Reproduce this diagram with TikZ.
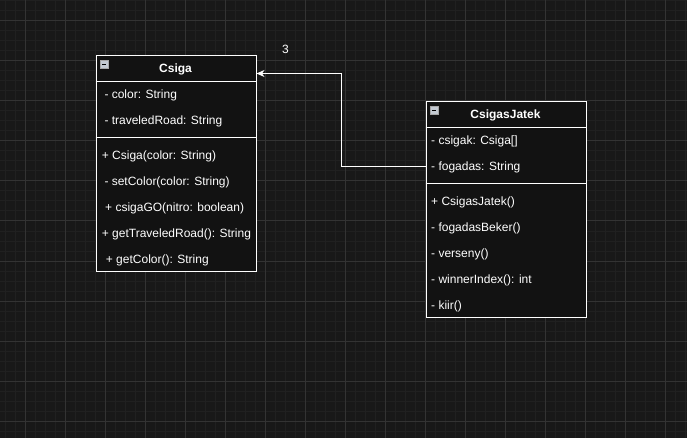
\documentclass[tikz,border=0pt]{standalone}
\usepackage{fontspec}
\setmainfont{Liberation Sans}
\usetikzlibrary{arrows.meta}
\definecolor{canvas}{HTML}{181818}
\definecolor{boxfill}{HTML}{121212}
\definecolor{minorline}{HTML}{202020}
\definecolor{majorline}{HTML}{333333}
\definecolor{togglegray}{HTML}{C4CAD2}
\begin{document}
\begin{tikzpicture}[
      x=1pt, y=-1pt,
      font=\fontsize{12}{14}\selectfont,
      minorgrid/.style={minorline, line width=1pt},
      majorgrid/.style={majorline, line width=1pt},
      classbox/.style={draw=white, fill=boxfill, line width=1pt, rectangle, inner sep=0pt, minimum width=160pt, minimum height=215pt, anchor=north west},
      divider/.style={white, line width=1pt},
      classtitle/.style={text=white, font=\fontsize{12}{14}\selectfont\bfseries, inner sep=0pt, text height=8.6pt, text depth=0pt},
      member/.style={text=white, anchor=west, inner sep=0pt, text height=8.6pt, text depth=0pt},
      togglebox/.style={draw=gray!70, fill=togglegray, minimum size=8pt, inner sep=0pt, anchor=north west,
        path picture={\draw[black, line width=1.2pt] ([xshift=2pt]path picture bounding box.west) -- ([xshift=-2pt]path picture bounding box.east);}},
      assoc/.style={white, line width=1pt, -{Stealth[length=8pt, width=7pt, inset=2.5pt]}}
    ]
    % Canvas
    \fill[canvas] (0,0) rectangle (687,438);
    \useasboundingbox (0,0) rectangle (687,438);
    \foreach \gx in {5,15,...,685} \draw[minorgrid] (\gx,0) -- (\gx,438);
    \foreach \gy in {1,11,...,431} \draw[minorgrid] (0,\gy) -- (687,\gy);
    \foreach \gx in {25,65,...,665} \draw[majorgrid] (\gx,0) -- (\gx,438);
    \foreach \gy in {21,61,...,421} \draw[majorgrid] (0,\gy) -- (687,\gy);

    % Csiga
    \node[classbox] (csiga) at (95.5,55.5) {};
    \node[togglebox] (csiga-toggle) at (100,60) {};
    \node[classtitle] (csiga-title) at (175.5,68.3) {Csiga};
    \draw[divider] (csiga.west |- 0,81.5) -- (csiga.east |- 0,81.5);
    \draw[divider] (csiga.west |- 0,137.5) -- (csiga.east |- 0,137.5);
    \node[member] (color) at (104.3,94.5) {- color: String};
    \node[member] (traveledroad) at (104.3,120.7) {- traveledRoad: String};
    \node[member] (csiga-ctor) at (101.7,155) {+ Csiga(color: String)};
    \node[member] (setcolor) at (104.3,181) {- setColor(color: String)};
    \node[member] (csigago) at (105,207) {+ csigaGO(nitro: boolean)};
    \node[member] (gettraveled) at (101.7,233) {+ getTraveledRoad(): String};
    \node[member] (getcolor) at (105.7,259) {+ getColor(): String};

    % CsigasJatek
    \node[classbox] (jatek) at (425.5,101.5) {};
    \node[togglebox] (jatek-toggle) at (430,106) {};
    \node[classtitle] (jatek-title) at (505.5,114.3) {CsigasJatek};
    \draw[divider] (jatek.west |- 0,127.5) -- (jatek.east |- 0,127.5);
    \draw[divider] (jatek.west |- 0,183.5) -- (jatek.east |- 0,183.5);
    \node[member] (csigak) at (431,140.7) {- csigak: Csiga[]};
    \node[member] (fogadas) at (431,166.7) {- fogadas: String};
    \node[member] (jatek-ctor) at (431,201) {+ CsigasJatek()};
    \node[member] (fogadasbeker) at (431,227) {- fogadasBeker()};
    \node[member] (verseny) at (431,253) {- verseny()};
    \node[member] (winnerindex) at (431,279) {- winnerIndex(): int};
    \node[member] (kiir) at (431,305) {- kiir()};

    % Association
    \coordinate (bend) at (341,73.5);
    \draw[assoc] (fogadas.west -| jatek.west) -| (bend) -- (bend -| csiga.east);
    \node[text=white, inner sep=0pt, text height=8.6pt, text depth=0pt] (multiplicity) at (285.5,49.5) {3};
  \end{tikzpicture}
\end{document}
